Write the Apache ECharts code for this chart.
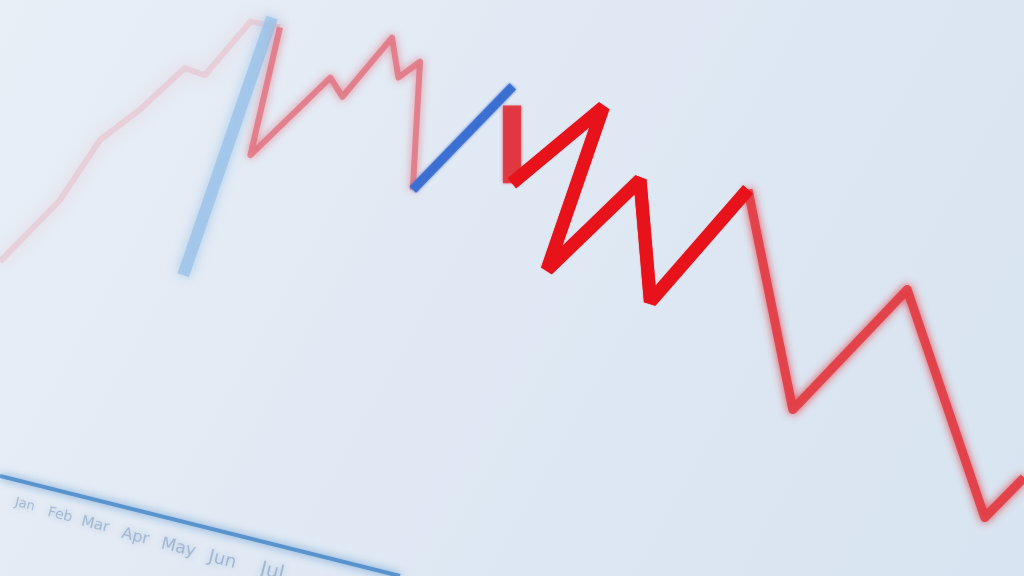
<!DOCTYPE html>
<html>
<head>
<meta charset="utf-8">
<script src="https://cdn.jsdelivr.net/npm/echarts@6/dist/echarts.min.js"></script>
<style>
html,body{margin:0;padding:0;width:1024px;height:576px;overflow:hidden;background:#e2ebf5;}
#chart{width:1024px;height:576px;}
</style>
</head>
<body>
<div id="chart"></div>
<script>
// Data (x: time units 0-128, y: level units 0-72)
const fadedTrail = [[0,39.3],[7.5,47],[12.5,54.5],[17.5,58.3],[23.1,63.5],[25.6,62.6],[31.3,69.3],[35,68.6]];
const pinkRun = [[35,68.6],[31.3,52.6],[41.3,62.3],[42.8,59.9],[49,67.3],[49.8,62.3],[52.5,64.3],[51.6,48.3]];
const blueRise = [[51.6,48.3],[64.1,61.2]];
const paleBlueDrop = [[34,69.8],[22.9,37.6]];
const redStep = [[64,58.8],[64,49.1]];
const redNear = [[64,49.1],[75.4,58.6],[68.4,38.3],[80,49.5],[81.3,34.3],[93.5,48.3]];
const redFar = [[93.5,48.3],[99.1,20.8],[113.4,35.8],[123.1,7.3],[128,12.3]];
const baseAxis = [[0,12.5],[50,0]];
const tickLabels = ['Jan','Feb','Mar','Apr','May','Jun','Jul'];
const tickPos = [[3.1,8.9],[7.5,7.6],[11.9,6.4],[16.9,4.9],[22.3,3.5],[27.8,2.0],[34.0,0.5]];
const tickSize = [13,14,15,16,17,18,20];

const chart = echarts.init(document.getElementById('chart'), null, {renderer:'canvas'});

function line(name, data, color, width, opacity, blur, z, join){
  return {
    name: name, type:'line', data: data, symbol:'none', z: z||2,
    silent:true, animation:false,
    lineStyle:{color:color, width:width, opacity:opacity, join: join||'bevel', cap:'butt',
      shadowBlur: blur, shadowColor: color}
  };
}

const option = {
  animation:false,
  backgroundColor:{type:'linear',x:0,y:0,x2:1,y2:1,colorStops:[
    {offset:0,color:'#e9eff7'},{offset:0.5,color:'#dfe8f3'},{offset:1,color:'#d8e4f1'}]},
  grid:{left:0,right:0,top:0,bottom:0},
  xAxis:{type:'value',min:0,max:128,show:false},
  yAxis:{type:'value',min:0,max:72,show:false},
  series:[
    line('trail', fadedTrail, '#e9afbb', 6, 0.4, 16, 1, 'round'),
    line('paleBlue', paleBlueDrop, '#9cc3e8', 12, 0.8, 12, 2, 'round'),
    line('pink', pinkRun, '#e26675', 6, 0.7, 9, 3, 'round'),
    line('blue', blueRise, '#3b6fd2', 9, 0.95, 3, 4),
    line('redStep', redStep, '#e0353f', 18, 0.9, 3, 4),
    line('redFar', redFar, '#e23a42', 9, 0.88, 9, 4, 'round'),
    line('redNear', redNear, '#e8121b', 13, 1, 1, 5),
    line('axis', baseAxis, '#3a80c4', 4, 0.75, 9, 2, 'round'),
    {
      name:'ticks', type:'scatter', symbolSize:0, silent:true, animation:false,
      data: tickPos.map((p,i)=>({name:tickLabels[i], value:p,
        label:{fontSize:tickSize[i]}})),
      label:{show:true, position:'inside', formatter:p=>p.name, rotate:-14,
        color:'rgba(70,115,170,0.45)', fontFamily:'DejaVu Sans',
        textShadowBlur:7, textShadowColor:'rgba(70,115,170,0.8)'}
    }
  ]
};
chart.setOption(option);
</script>
</body>
</html>
